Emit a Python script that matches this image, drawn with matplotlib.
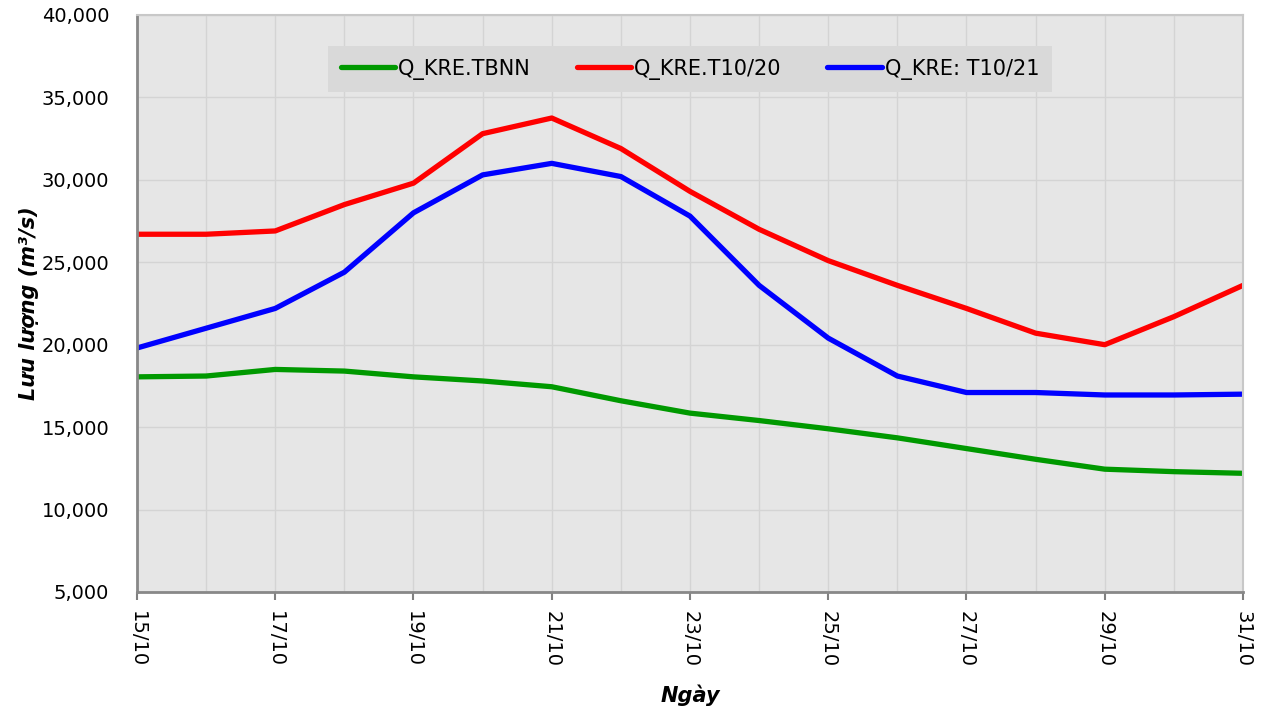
import numpy as np
import matplotlib.pyplot as plt
from matplotlib.ticker import FuncFormatter, MultipleLocator

# Du lieu luu luong (m3/s) tu 15/10 den 31/10
ngay = list(range(15, 32))
q_tbnn = [18050, 18100, 18500, 18400, 18050, 17800, 17450, 16600, 15850,
          15400, 14900, 14350, 13700, 13050, 12450, 12300, 12200]
q_t10_20 = [26700, 26700, 26900, 28500, 29800, 32800, 33750, 31900, 29300,
            27000, 25100, 23600, 22200, 20700, 20000, 21700, 23600]
q_t10_21 = [19800, 21000, 22200, 24400, 28000, 30300, 31000, 30200, 27800,
            23600, 20400, 18100, 17100, 17100, 16950, 16950, 17000]

fig = plt.figure(figsize=(12.65, 7.10), dpi=100)
ax = fig.add_axes([0.1083, 0.1662, 0.8743, 0.8127])
ax.set_facecolor('#e6e6e6')

ax.plot(ngay, q_tbnn, color='#009900', lw=3.8, label='Q_KRE.TBNN')
ax.plot(ngay, q_t10_20, color='#ff0000', lw=3.8, label='Q_KRE.T10/20')
ax.plot(ngay, q_t10_21, color='#0000ff', lw=3.8, label='Q_KRE: T10/21')

ax.set_xlim(15, 31)
ax.set_ylim(5000, 40000)
ax.set_xticks(ngay[::2])
ax.set_xticklabels([f'{d}/10' for d in ngay[::2]], rotation=-90, fontsize=14)
ax.xaxis.set_minor_locator(MultipleLocator(1))
ax.yaxis.set_major_locator(MultipleLocator(5000))
ax.yaxis.set_major_formatter(FuncFormatter(lambda v, p: f'{v:,.0f}'))
ax.tick_params(axis='y', labelsize=14, length=0, pad=20)
ax.tick_params(axis='x', which='major', length=6, width=1.5, color='#808080', pad=8)
ax.tick_params(axis='x', which='minor', length=0)

ax.grid(True, which='both', color='#d4d4d4', lw=1)
ax.set_axisbelow(True)
for s in ['left', 'bottom']:
    ax.spines[s].set_color('#888888')
    ax.spines[s].set_linewidth(2)
for s in ['top', 'right']:
    ax.spines[s].set_color('#c8c8c8')
    ax.spines[s].set_linewidth(1.5)

ax.set_ylabel('Lưu lượng (m³/s)', fontsize=15, fontweight='bold', style='italic', labelpad=2)
ax.set_xlabel('Ngày', fontsize=15, fontweight='bold', style='italic', labelpad=12)

leg = ax.legend(loc='center', bbox_to_anchor=(0.5, 0.906), ncol=3, frameon=True,
                fancybox=False, facecolor='#d9d9d9', edgecolor='none', framealpha=1,
                prop={'family': 'Liberation Sans Narrow', 'size': 15},
                handlelength=2.6, handletextpad=0.15, columnspacing=2.2,
                borderpad=0.6, borderaxespad=0)
for h in leg.get_lines():
    h.set_solid_capstyle('round')

fig.savefig('out.png', dpi=100)
